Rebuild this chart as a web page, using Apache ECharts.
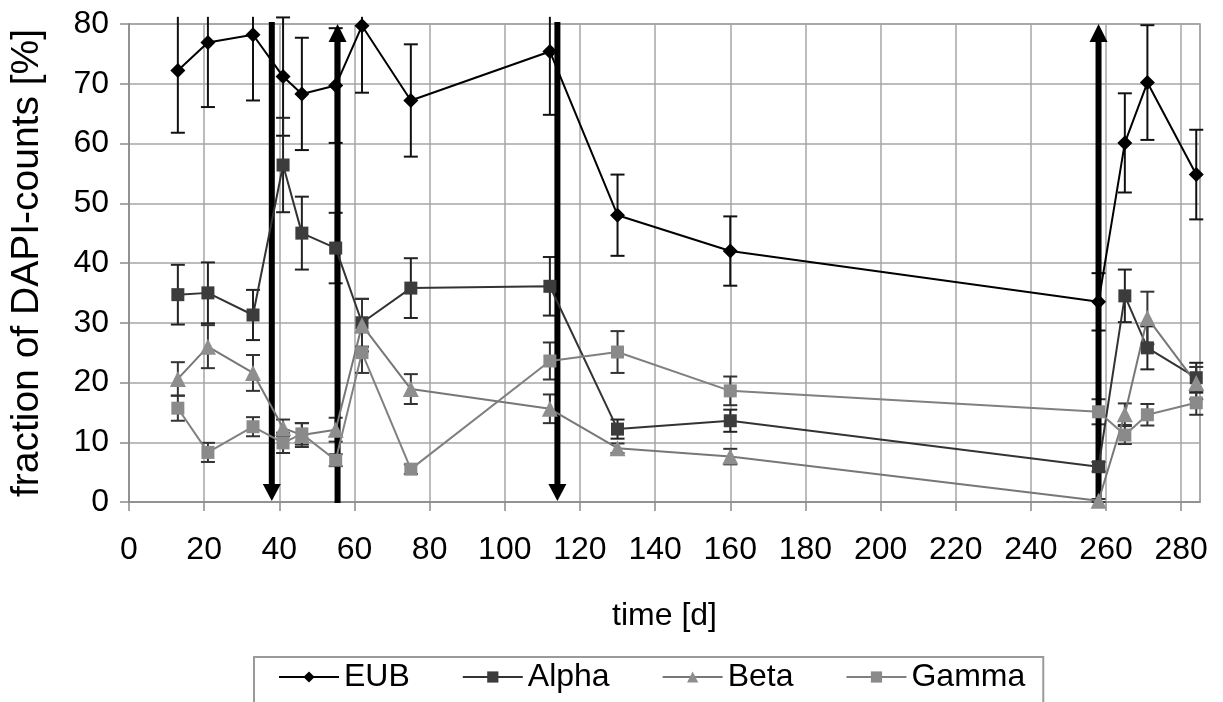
<!DOCTYPE html>
<html>
<head>
<meta charset="utf-8">
<script src="https://cdn.jsdelivr.net/npm/echarts@6/dist/echarts.min.js"></script>
<style>
  html, body { margin: 0; padding: 0; background: #fff; }
  #chart { width: 1223px; height: 702px; }
</style>
</head>
<body>
<div id="chart"></div>
<script>
// sampling days
var days = [13, 21, 33, 41, 46, 55, 62, 75, 112, 130, 160, 258, 265, 271, 284];

// fraction of DAPI counts [%] and their errors
var eub      = [72.2, 76.9, 78.2, 71.2, 68.3, 69.7, 79.7, 67.2, 75.4, 48.0, 42.0, 33.5, 60.1, 70.2, 54.8];
var eubErr   = [10.4, 10.8, 11.0, 9.9, 9.4, 9.6, 11.2, 9.4, 10.6, 6.8, 5.8, 4.8, 8.3, 9.6, 7.5];
var alpha    = [34.7, 35.0, 31.3, 56.4, 45.0, 42.5, 30.0, 35.8, 36.1, 12.2, 13.6, 5.9, 34.5, 25.8, 20.8];
var alphaErr = [5.0, 5.1, 4.2, 7.9, 6.1, 5.9, 4.0, 5.0, 4.9, 1.6, 1.85, 0.8, 4.4, 3.6, 2.5];
var beta     = [20.6, 26.0, 21.6, 12.4, 11.2, 12.1, 29.6, 18.9, 15.6, 9.0, 7.6, 0.2, 14.7, 30.8, 19.9];
var betaErr  = [2.8, 3.6, 3.0, 1.4, 2.0, 2.0, 4.4, 2.5, 2.4, 0.8, 1.3, 0.3, 1.8, 4.4, 2.7];
var gamma    = [15.7, 8.3, 12.6, 9.9, 11.4, 7.0, 25.0, 5.5, 23.6, 25.1, 18.6, 15.1, 11.2, 14.6, 16.6];
var gammaErr = [2.1, 1.6, 1.6, 1.7, 1.8, 1.0, 3.4, 0.8, 3.1, 3.5, 2.4, 2.1, 1.5, 1.8, 2.0];

// big arrows (day, direction: -1 down, 1 up)
var arrowDays = [38, 55.5, 114, 258];
var arrowDirs = [-1, 1, -1, 1];

var FONT = "'Liberation Sans', Arial, sans-serif";
var clipTop = 81.2;

function pts(ys) {
  return days.map(function (d, i) { return [d, ys[i]]; });
}
function errPts(ys, es) {
  return days.map(function (d, i) { return [d, ys[i], es[i]]; });
}

function renderErr(params, api) {
  var x = api.value(0), y = api.value(1), e = api.value(2);
  var hi = y + e, lo = Math.max(y - e, 0);
  var capHi = hi <= clipTop;
  hi = Math.min(hi, clipTop);
  var a = api.coord([x, hi]), b = api.coord([x, lo]);
  var c = 7;
  var st = { stroke: api.visual('color'), lineWidth: 2 };
  var kids = [{ type: 'line', shape: { x1: a[0], y1: a[1], x2: b[0], y2: b[1] }, style: st }];
  if (capHi) kids.push({ type: 'line', shape: { x1: a[0] - c, y1: a[1], x2: a[0] + c, y2: a[1] }, style: st });
  kids.push({ type: 'line', shape: { x1: b[0] - c, y1: b[1], x2: b[0] + c, y2: b[1] }, style: st });
  return { type: 'group', children: kids };
}

function renderArrow(params, api) {
  var x = api.value(0), dir = api.value(1);
  var top = api.coord([x, 80]), bot = api.coord([x, 0]);
  var cx = top[0], w = 6, hw = 9, hh = 18;
  var shaft, head;
  if (dir < 0) {
    shaft = { x: cx - w / 2, y: top[1] - 2, width: w, height: bot[1] - hh - top[1] + 3 };
    head = [[cx - hw, bot[1] - hh], [cx + hw, bot[1] - hh], [cx, bot[1] - 1]];
  } else {
    shaft = { x: cx - w / 2, y: top[1] + hh - 1, width: w, height: bot[1] - top[1] - hh + 2 };
    head = [[cx - hw, top[1] + hh], [cx + hw, top[1] + hh], [cx, top[1]]];
  }
  return {
    type: 'group',
    children: [
      { type: 'rect', shape: shaft, style: { fill: '#000' } },
      { type: 'polygon', shape: { points: head }, style: { fill: '#000' } }
    ]
  };
}

function lineSeries(name, ys, symbol, size, color, lineColor) {
  return {
    name: name, type: 'line', data: pts(ys), z: 4,
    symbol: symbol, symbolSize: size, showAllSymbol: true,
    itemStyle: { color: color },
    lineStyle: { color: lineColor, width: 2 }
  };
}
function errSeries(name, ys, es, color) {
  return {
    name: name, type: 'custom', data: errPts(ys, es), z: 3,
    renderItem: renderErr, itemStyle: { color: color },
    encode: { x: 0, y: 1 }
  };
}

var chart = echarts.init(document.getElementById('chart'));
chart.setOption({
  animation: false,
  backgroundColor: '#fff',
  grid: { left: 128, right: 23, top: 24, bottom: 200, show: true, borderColor: '#9a9a9a', borderWidth: 1.5 },
  xAxis: {
    type: 'value', min: 0, max: 285, interval: 20,
    name: 'time [d]', nameLocation: 'middle', nameGap: 98,
    nameTextStyle: { fontSize: 32, fontFamily: FONT, color: '#000' },
    axisLine: { lineStyle: { color: '#8a8a8a', width: 1.5 } },
    axisTick: { show: true, length: 9, lineStyle: { color: '#8a8a8a', width: 1.5 } },
    axisLabel: { fontSize: 32, fontFamily: FONT, color: '#000', margin: 32, showMaxLabel: false },
    splitLine: { show: true, lineStyle: { color: '#a6a6a6', width: 1.5 } }
  },
  yAxis: {
    type: 'value', min: 0, max: 80, interval: 10,
    name: 'fraction of DAPI-counts [%]', nameLocation: 'middle', nameGap: 82,
    nameTextStyle: { fontSize: 39, fontFamily: FONT, color: '#000' },
    axisLine: { show: true, lineStyle: { color: '#8a8a8a', width: 1.5 } },
    axisTick: { show: true, length: 9, lineStyle: { color: '#8a8a8a', width: 1.5 } },
    axisLabel: { fontSize: 32, fontFamily: FONT, color: '#000', margin: 20 },
    splitLine: { show: true, lineStyle: { color: '#a6a6a6', width: 1.5 } }
  },
  legend: {
    data: ['EUB', 'Alpha', 'Beta', 'Gamma'],
    left: 254, top: 657, orient: 'horizontal',
    padding: [4, 18, 30, 24],
    borderColor: '#9a9a9a', borderWidth: 2,
    itemGap: 52, itemWidth: 60, itemHeight: 14,
    textStyle: { fontSize: 32, fontFamily: FONT, color: '#000' }
  },
  series: [
    errSeries('EUB err', eub, eubErr, '#111'),
    errSeries('Alpha err', alpha, alphaErr, '#222'),
    errSeries('Beta err', beta, betaErr, '#333'),
    errSeries('Gamma err', gamma, gammaErr, '#333'),
    {
      name: 'arrows', type: 'custom', z: 3,
      data: arrowDays.map(function (d, i) { return [d, arrowDirs[i]]; }),
      renderItem: renderArrow, encode: { x: 0, y: 1 }
    },
    lineSeries('EUB', eub, 'diamond', 15, '#000', '#000'),
    lineSeries('Alpha', alpha, 'rect', 13, '#3c3c3c', '#333'),
    lineSeries('Beta', beta, 'triangle', 16, '#8e8e8e', '#777'),
    lineSeries('Gamma', gamma, 'rect', 13, '#8a8a8a', '#808080')
  ]
});
</script>
</body>
</html>
